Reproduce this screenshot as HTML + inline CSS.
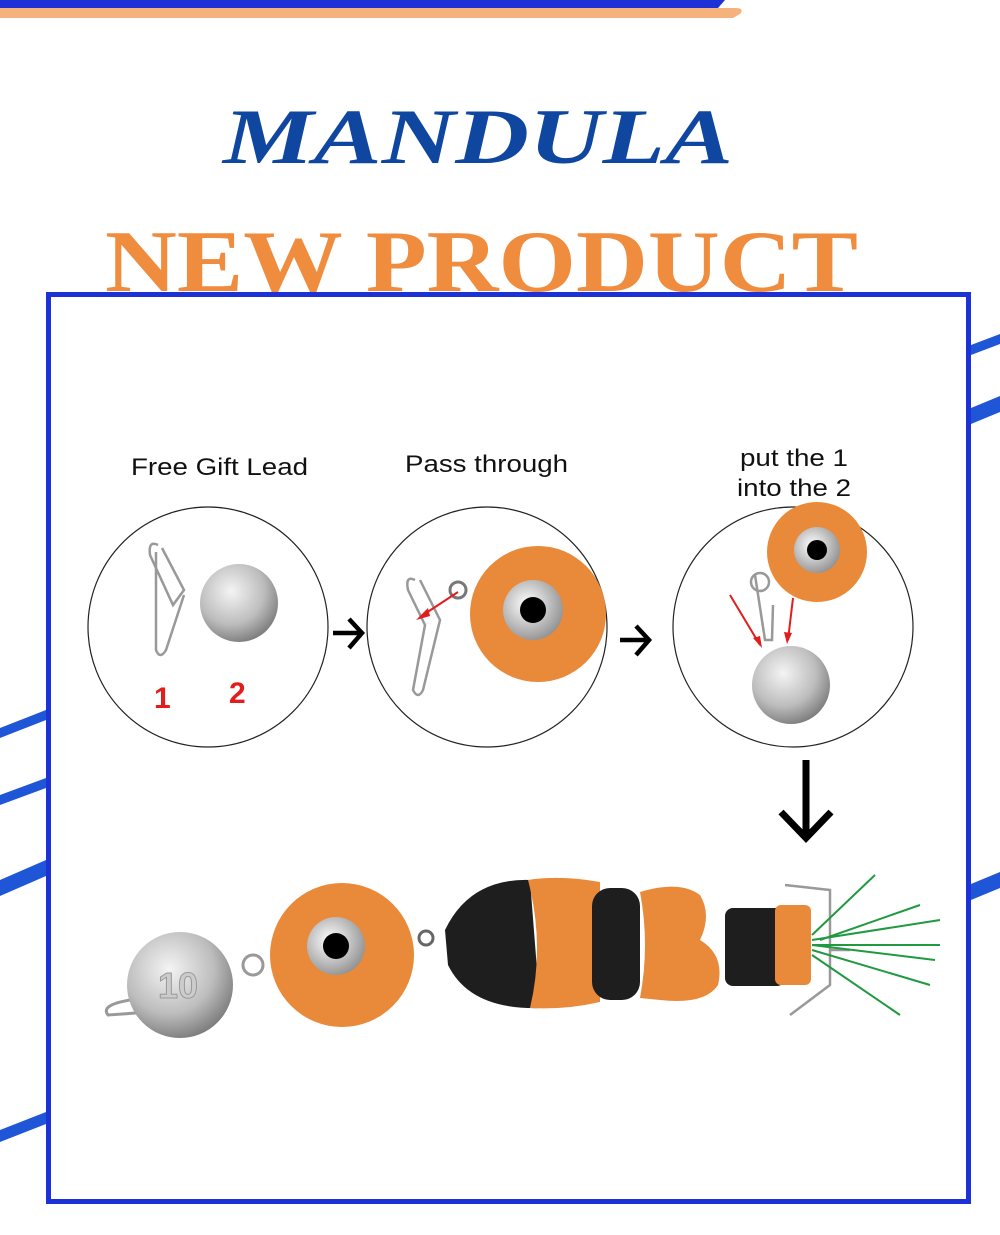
<!DOCTYPE html>
<html><head><meta charset="utf-8"><style>html,body{margin:0;padding:0;background:#fff}svg{display:block}</style></head>
<body>
<svg width="1000" height="1235" viewBox="0 0 1000 1235" xmlns="http://www.w3.org/2000/svg" font-family="Liberation Sans, sans-serif">
<defs>
<radialGradient id="silver" cx="0.4" cy="0.35" r="0.7"><stop offset="0" stop-color="#f4f4f4"/><stop offset="0.6" stop-color="#bdbdbd"/><stop offset="1" stop-color="#777"/></radialGradient>
<radialGradient id="eye" cx="0.4" cy="0.4" r="0.7"><stop offset="0" stop-color="#fff"/><stop offset="1" stop-color="#888"/></radialGradient>
</defs>
<!-- top bar -->
<path d="M0 8 L735 8 Q745 8 740 14 L733 18 L0 18 Z" fill="#f6b27d"/>
<path d="M0 0 L725 0 L718 8 L0 8 Z" fill="#1c32d6"/>
<!-- side stripes -->
<g fill="#1f56d8">
<polygon points="971,345 1000,334 1000,344 971,355"/>
<polygon points="971,408 1000,396 1000,412 971,424"/>
<polygon points="971,884 1000,872 1000,888 971,900"/>
<polygon points="0,728 46,710 46,720 0,738"/>
<polygon points="0,795 46,778 46,788 0,805"/>
<polygon points="0,880 46,860 46,876 0,896"/>
<polygon points="0,1130 46,1112 46,1124 0,1142"/>
</g>
<!-- titles -->
<text x="478" y="163" text-anchor="middle" font-family="Liberation Serif, serif" font-style="italic" font-weight="bold" font-size="78" fill="#0f47a0" textLength="510" lengthAdjust="spacingAndGlyphs">MANDULA</text>
<text x="105" y="291" font-family="Liberation Serif, serif" font-weight="bold" font-size="88" fill="#f08c3e" textLength="753" lengthAdjust="spacingAndGlyphs">NEW PRODUCT</text>
<!-- frame -->
<rect x="48.5" y="294.5" width="920" height="907" fill="#fff" stroke="#1c32d6" stroke-width="5"/>
<!-- labels -->
<text x="131" y="475" font-size="24" fill="#111" textLength="177" lengthAdjust="spacingAndGlyphs">Free Gift Lead</text>
<text x="405" y="472" font-size="24" fill="#111" textLength="163" lengthAdjust="spacingAndGlyphs">Pass through</text>
<text x="740" y="466" font-size="24" fill="#111" textLength="108" lengthAdjust="spacingAndGlyphs">put the 1</text>
<text x="737" y="496" font-size="24" fill="#111" textLength="114" lengthAdjust="spacingAndGlyphs">into the 2</text>
<!-- circles -->
<g fill="none" stroke="#222" stroke-width="1.2">
<circle cx="208" cy="627" r="120"/><circle cx="487" cy="627" r="120"/><circle cx="793" cy="627" r="120"/>
</g>
<!-- circle1 -->
<path d="M158 545 Q148 540 150 555 L173 605 L184 590 L162 548" fill="none" stroke="#999" stroke-width="2.5"/>
<path d="M156 552 L156 650 Q160 660 166 650 L184 595" fill="none" stroke="#999" stroke-width="2.5"/>
<circle cx="239" cy="603" r="39" fill="url(#silver)"/>
<text x="154" y="708" font-size="30" font-weight="bold" fill="#e21d1d">1</text>
<text x="229" y="703" font-size="30" font-weight="bold" fill="#e21d1d">2</text>
<g stroke="#000" stroke-width="4.5" fill="none">
<line x1="333" y1="633" x2="360" y2="633"/><polyline points="349,619 362,633 349,648"/>
<line x1="620" y1="640" x2="647" y2="640"/><polyline points="636,626 649,640 636,655"/>
</g>
<!-- circle2 -->
<path d="M415 580 Q405 575 408 590 L425 625 L413 690 Q418 700 423 690 L440 620 L420 580" fill="none" stroke="#999" stroke-width="2.5"/>
<circle cx="458" cy="590" r="8" fill="none" stroke="#777" stroke-width="3"/>
<circle cx="538" cy="614" r="68" fill="#e98a3a"/>
<circle cx="533" cy="610" r="30" fill="url(#eye)"/><circle cx="533" cy="610" r="13" fill="#000"/>
<line x1="458" y1="592" x2="420" y2="617" stroke="#e21d1d" stroke-width="2"/>
<polygon points="416,620 428,608 430,616" fill="#e21d1d"/>
<!-- circle3 -->
<circle cx="817" cy="552" r="50" fill="#e98a3a"/>
<circle cx="817" cy="550" r="23" fill="url(#eye)"/><circle cx="817" cy="550" r="10" fill="#000"/>
<circle cx="760" cy="582" r="9" fill="none" stroke="#999" stroke-width="2.5"/>
<path d="M755 575 L765 640 L772 640 L773 605" fill="none" stroke="#999" stroke-width="2.5"/>
<circle cx="791" cy="685" r="39" fill="url(#silver)"/>
<line x1="730" y1="595" x2="760" y2="645" stroke="#e21d1d" stroke-width="2"/>
<polygon points="762,648 753,638 760,636" fill="#e21d1d"/>
<line x1="793" y1="598" x2="788" y2="640" stroke="#e21d1d" stroke-width="2"/>
<polygon points="787,644 784,632 792,633" fill="#e21d1d"/>
<!-- down arrow -->
<line x1="806" y1="760" x2="806" y2="836" stroke="#000" stroke-width="7"/>
<polyline points="781,812 806,838 831,812" fill="none" stroke="#000" stroke-width="7"/>
<!-- lure -->
<path d="M130 1000 Q100 1005 108 1015 L150 1012" fill="none" stroke="#999" stroke-width="3"/>
<circle cx="180" cy="985" r="53" fill="url(#silver)"/>
<text x="178" y="998" text-anchor="middle" font-size="36" font-weight="bold" fill="#ccc" stroke="#999" stroke-width="1">10</text>
<circle cx="253" cy="965" r="10" fill="none" stroke="#999" stroke-width="3"/>
<circle cx="342" cy="955" r="72" fill="#e98a3a"/>
<circle cx="336" cy="946" r="29" fill="url(#eye)"/><circle cx="336" cy="946" r="13" fill="#000"/>
<circle cx="426" cy="938" r="7" fill="none" stroke="#666" stroke-width="3"/>
<path d="M445 930 Q470 878 530 880 L540 1008 Q470 1010 448 965 Z" fill="#1e1e1e"/>
<path d="M528 880 Q560 875 600 882 L600 1002 Q565 1010 530 1008 Q545 945 528 880 Z" fill="#e98a3a"/>
<rect x="592" y="888" width="48" height="112" rx="18" fill="#1e1e1e"/>
<path d="M640 892 Q680 880 700 895 Q712 915 700 940 Q725 955 718 985 Q705 1005 660 1000 L640 998 Q650 945 640 892 Z" fill="#e98a3a"/>
<rect x="725" y="908" width="60" height="78" rx="8" fill="#1e1e1e"/>
<rect x="775" y="905" width="36" height="80" rx="6" fill="#e98a3a"/>
<path d="M785 885 L830 890 L830 985 L790 1015 M830 950 L850 950" fill="none" stroke="#999" stroke-width="2.5"/>
<g stroke="#1f9a3e" stroke-width="2">
<line x1="812" y1="940" x2="940" y2="920"/><line x1="812" y1="945" x2="940" y2="945"/><line x1="812" y1="950" x2="930" y2="985"/><line x1="812" y1="935" x2="875" y2="875"/><line x1="812" y1="955" x2="900" y2="1015"/><line x1="812" y1="945" x2="935" y2="960"/><line x1="820" y1="940" x2="920" y2="905"/>
</g>
</svg>
</body></html>
